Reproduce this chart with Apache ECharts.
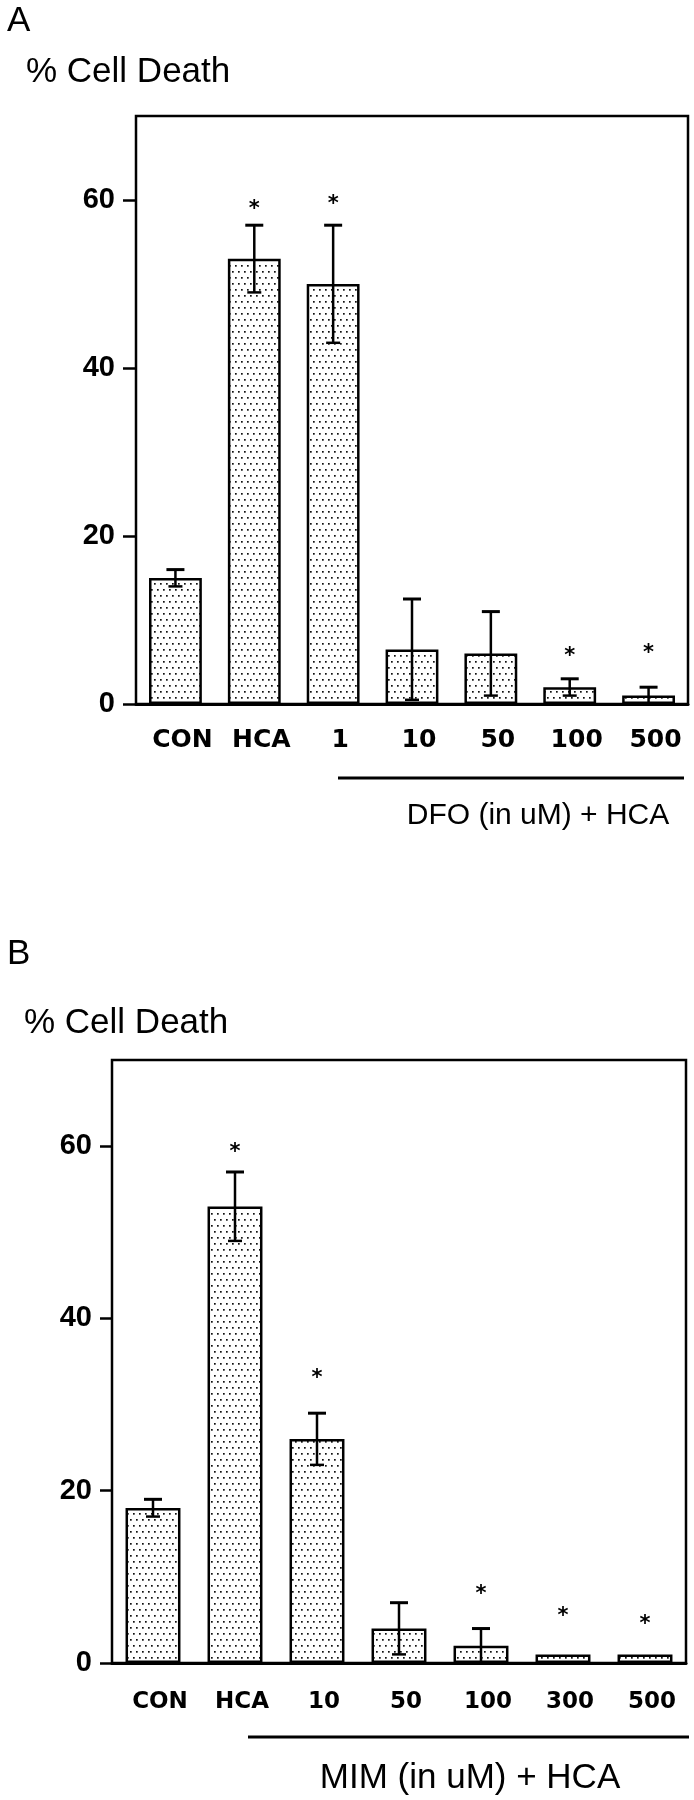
<!DOCTYPE html>
<html>
<head>
<meta charset="utf-8">
<script src="https://cdn.jsdelivr.net/npm/echarts@6/dist/echarts.min.js"></script>
<style>
html,body{margin:0;padding:0;background:#fff;}
#chart{width:694px;height:1800px;}
</style>
</head>
<body>
<div id="chart"></div>
<script>
// ---- data ----
const catsA = ['CON', 'HCA', '1', '10', '50', '100', '500'];
const meanA = [15, 53, 50, 6.5, 6, 2, 1];
const errA  = [1, 4, 7, 6, 5, 1, 1];
const starA = [null, 59.4, 60, null, null, 6.2, 6.6];

const catsB = ['CON', 'HCA', '10', '50', '100', '300', '500'];
const meanB = [18, 53, 26, 4, 2, 1, 1];
const errB  = [1, 4, 3, 3, 2, 0, 0];
const starB = [null, 59.8, 33.6, null, 8.5, 6.0, 5.1];

const yTicks = [0, 20, 40, 60];
const yMax = 70;

// ---- dotted fill pattern ----
function makePattern() {
  const c = document.createElement('canvas');
  c.width = 6; c.height = 12;
  const g = c.getContext('2d');
  g.fillStyle = '#fff'; g.fillRect(0, 0, 6, 12);
  g.fillStyle = '#111';
  g.fillRect(1, 1, 1.7, 1.7);
  g.fillRect(4, 7, 1.7, 1.7);
  return c;
}
const pattern = { image: makePattern(), repeat: 'repeat' };

function errSeries(idx, means, errs) {
  return {
    type: 'custom', xAxisIndex: idx, yAxisIndex: idx, z: 5,
    data: means.map((m, i) => [i, m, errs[i]]).filter(d => d[2] > 0),
    renderItem: function (params, api) {
      const i = api.value(0), m = api.value(1), e = api.value(2);
      const hi = api.coord([i, m + e]);
      const lo = api.coord([i, Math.max(0, m - e)]);
      const st = { stroke: '#000', lineWidth: 2.5 };
      return { type: 'group', children: [
        { type: 'line', shape: { x1: hi[0], y1: hi[1], x2: lo[0], y2: lo[1] }, style: st },
        { type: 'line', shape: { x1: hi[0] - 9, y1: hi[1], x2: hi[0] + 9, y2: hi[1] }, style: { stroke: '#000', lineWidth: 3 } },
        { type: 'line', shape: { x1: lo[0] - 7, y1: lo[1], x2: lo[0] + 7, y2: lo[1] }, style: { stroke: '#000', lineWidth: 2.5 } }
      ]};
    }
  };
}

function starSeries(idx, stars) {
  return {
    type: 'custom', xAxisIndex: idx, yAxisIndex: idx, z: 6,
    data: stars.map((s, i) => [i, s]).filter(d => d[1] !== null),
    renderItem: function (params, api) {
      const p = api.coord([api.value(0), api.value(1)]);
      return { type: 'text', style: { text: '*', x: p[0], y: p[1] + 5, align: 'center', verticalAlign: 'middle',
        font: 'bold 21px "DejaVu Sans"', fill: '#000' } };
    }
  };
}

function xAxisCfg(idx, cats, fs, margin) {
  return {
    gridIndex: idx, type: 'category', data: cats,
    axisLine: { lineStyle: { color: '#000', width: 3 } },
    axisTick: { show: false },
    axisLabel: { margin: margin, color: '#000', fontFamily: 'DejaVu Sans', fontWeight: 'bold', fontSize: fs, padding: [0, 0, 0, 14] }
  };
}
function yAxisCfg(idx, fs, tickLen, margin) {
  return {
    gridIndex: idx, type: 'value', min: 0, max: yMax, interval: 20,
    axisLine: { show: true, lineStyle: { color: '#000', width: 2 } },
    axisTick: { show: true, length: tickLen, customValues: yTicks, lineStyle: { color: '#000', width: 2.5 } },
    axisLabel: { customValues: yTicks, margin: margin, color: '#000', fontFamily: 'Liberation Sans', fontWeight: 'bold', fontSize: fs,
      formatter: v => (yTicks.indexOf(v) >= 0 ? String(v) : '') },
    splitLine: { show: false }
  };
}
function barSeries(idx, means) {
  return {
    type: 'bar', xAxisIndex: idx, yAxisIndex: idx, data: means, barWidth: '67%',
    itemStyle: { color: pattern, borderColor: '#000', borderWidth: 2.5 },
    animation: false
  };
}

const chart = echarts.init(document.getElementById('chart'), null, { renderer: 'canvas' });
const txt = (text, x, y, font, align) => ({ type: 'text', x: x, y: y,
  style: { text: text, font: font, fill: '#000', align: align || 'left', verticalAlign: 'middle' } });

chart.setOption({
  animation: false,
  backgroundColor: '#fff',
  grid: [
    { left: 136, top: 116, width: 552, height: 588, show: true, borderColor: '#000', borderWidth: 2.5, backgroundColor: 'transparent' },
    { left: 112, top: 1060, width: 574, height: 603, show: true, borderColor: '#000', borderWidth: 2.5, backgroundColor: 'transparent' }
  ],
  xAxis: [ xAxisCfg(0, catsA, 25, 24), xAxisCfg(1, catsB, 23, 28) ],
  yAxis: [ yAxisCfg(0, 29, 13, 21), yAxisCfg(1, 29, 12, 20) ],
  series: [
    barSeries(0, meanA), errSeries(0, meanA, errA), starSeries(0, starA),
    barSeries(1, meanB), errSeries(1, meanB, errB), starSeries(1, starB)
  ],
  graphic: [
    txt('A', 7, 21, '35px "Liberation Sans"'),
    txt('% Cell Death', 26, 72, '35px "Liberation Sans"'),
    { type: 'line', shape: { x1: 338, y1: 778, x2: 684, y2: 778 }, style: { stroke: '#000', lineWidth: 3 } },
    txt('DFO (in uM) + HCA', 538, 816, '30px "Liberation Sans"', 'center'),
    txt('B', 7, 954, '35px "Liberation Sans"'),
    txt('% Cell Death', 24, 1023, '35px "Liberation Sans"'),
    { type: 'line', shape: { x1: 248, y1: 1737, x2: 689, y2: 1737 }, style: { stroke: '#000', lineWidth: 3 } },
    txt('MIM (in uM) + HCA', 470, 1778, '35px "Liberation Sans"', 'center')
  ]
});
</script>
</body>
</html>
